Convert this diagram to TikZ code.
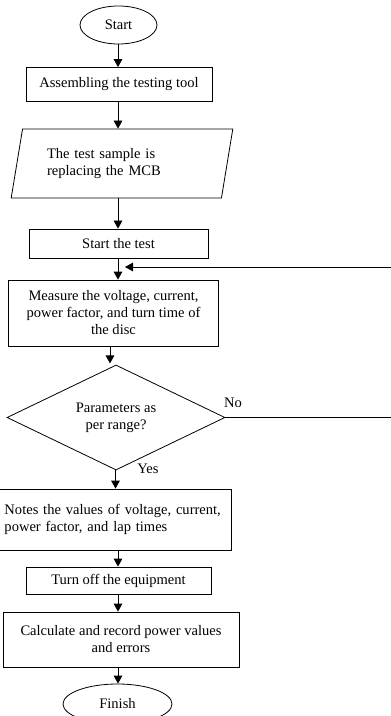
\documentclass[tikz,border=0pt]{standalone}
\usepackage{fontspec}
\setmainfont{Liberation Serif}
\usetikzlibrary{shapes.geometric,arrows.meta}

\newdimen\px
\px=0.75pt

\begin{document}
\begin{tikzpicture}[x=0.75pt, y=-0.75pt,
    font=\fontsize{10.9}{12.75}\selectfont,
    every node/.style={draw, line width=0.6pt, inner sep=2pt},
    term/.style={ellipse},
    proc/.style={rectangle, align=center},
    io/.style={trapezium, trapezium left angle=76, trapezium right angle=104,
        trapezium stretches=true, minimum width=222\px, minimum height=69\px,
        text width=150\px, align=left},
    decision/.style={diamond, aspect=2, inner sep=0pt, align=center,
        minimum width=218\px, minimum height=105\px},
    label/.style={draw=none, inner sep=0pt},
    arr/.style={line width=0.6pt, -{Triangle[length=6pt, width=6.5pt]}},
    wire/.style={line width=0.6pt}]

    \useasboundingbox (0,0) rectangle (390,716);

    % Kolom der pijlen
    \coordinate (col) at (118,0);
    \coordinate (colB) at (110,0);
    \coordinate (colC) at (115.5,0);

    % Stappen
    \node[term, minimum width=77\px, minimum height=38\px] (start) at (118.5,25) {Start};
    \node[proc, minimum width=186\px, minimum height=34\px] (assemble) at (119,84.5) {Assembling the testing tool};
    \node[io] (sample) at (122,163.5) {The test sample is\\replacing the MCB};
    \node[proc, minimum width=179\px, minimum height=29\px] (begin) at (118.5,243.5) {Start the test};
    \node[proc, minimum width=210\px, minimum height=66\px] (measure) at (113.5,313) {Measure the voltage, current,\\power factor, and turn time of\\the disc};
    \node[decision] (check) at (116,417.5) {Parameters as\\per range?};
    \node[proc, minimum width=232\px, minimum height=61\px, text width=222\px, align=left] (notes) at (115.5,519.5) {Notes the values of voltage, current,\\power factor, and lap times};
    \node[proc, minimum width=185\px, minimum height=27\px] (off) at (118.5,580.5) {Turn off the equipment};
    \node[proc, minimum width=236\px, minimum height=55\px] (calc) at (121,639.5) {Calculate and record power values\\and errors};
    \node[term, minimum width=109\px, minimum height=40\px] (finish) at (117.5,704) {Finish};

    % Pijlen
    \draw[arr] (start.south -| col) -- (assemble.north -| col);
    \draw[arr] (assemble.south -| col) -- (sample.north -| col);
    \draw[arr] (sample.south -| col) -- (begin.north -| col);
    \draw[arr] (begin.south -| col) -- (measure.north -| col);
    \draw[arr] (measure.south -| colB) -- ++(0,17);
    \draw[arr] (check.south -| colC) -- (notes.north -| colC);
    \draw[arr] (notes.south -| col) -- (off.north -| col);
    \draw[arr] (off.south -| col) -- (calc.north -| col);
    \draw[arr] (calc.south -| col) -- (finish.north -| col);

    % Terugkoppeling
    \coordinate (loopin) at (125,267);
    \coordinate (edge) at (393,417.5);
    \draw[arr] (check.east) -- (edge) |- (loopin);

    % Labels
    \node[label] (no) at (233,403) {No};
    \node[label] (yes) at (148,469) {Yes};

\end{tikzpicture}
\end{document}
